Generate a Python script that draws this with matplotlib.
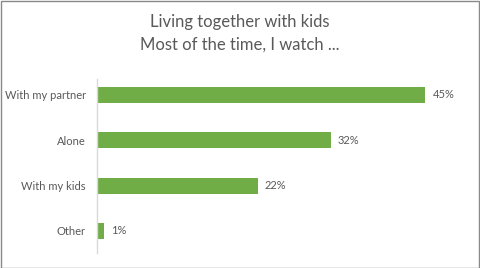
import matplotlib
matplotlib.use("Agg")
import matplotlib.pyplot as plt
from matplotlib.patches import Rectangle

categories = ["With my partner", "Alone", "With my kids", "Other"]
values = [0.45, 0.32, 0.22, 0.01]
value_labels = ["45%", "32%", "22%", "1%"]
title_lines = ["Living together with kids", "Most of the time, I watch ..."]

GREEN = "#70AD47"
TEXT = "#595959"
FONT = "Lato"

fig = plt.figure(figsize=(4.8, 2.68), dpi=100)
W, H = 480, 268
ax = fig.add_axes([97 / W, (H - 253) / H, (462 - 97) / W, (253 - 79) / H])

pos = list(range(len(categories)))
ax.barh(pos, values, height=0.35, color=GREEN)
for p, v, lab in zip(pos, values, value_labels):
    ax.annotate(lab, (v, p), xytext=(5, 0), textcoords="offset points",
                va="center", ha="left", fontsize=8, color=TEXT, family=FONT)

ax.set_xlim(0, 0.5)
ax.set_ylim(3.485, -0.346)
ax.set_yticks(pos)
ax.set_yticklabels(categories, fontsize=8, color=TEXT, family=FONT)
ax.tick_params(axis="y", length=0, pad=8)
ax.set_xticks([])
for s in ["top", "right", "bottom"]:
    ax.spines[s].set_visible(False)
ax.spines["left"].set_color("#D9D9D9")
ax.spines["left"].set_linewidth(1)

fig.text(0.5, 1 - 22 / H, title_lines[0], ha="center", va="center",
         fontsize=12, color=TEXT, family=FONT)
fig.text(0.5, 1 - 45 / H, title_lines[1], ha="center", va="center",
         fontsize=12, color=TEXT, family=FONT)

fig.patches.append(Rectangle((0.5 / W, 0.5 / H), 1 - 1.5 / W, 1 - 1.5 / H,
                             transform=fig.transFigure, fill=False,
                             edgecolor="#898989", linewidth=1))

fig.savefig("out.png", dpi=100)
